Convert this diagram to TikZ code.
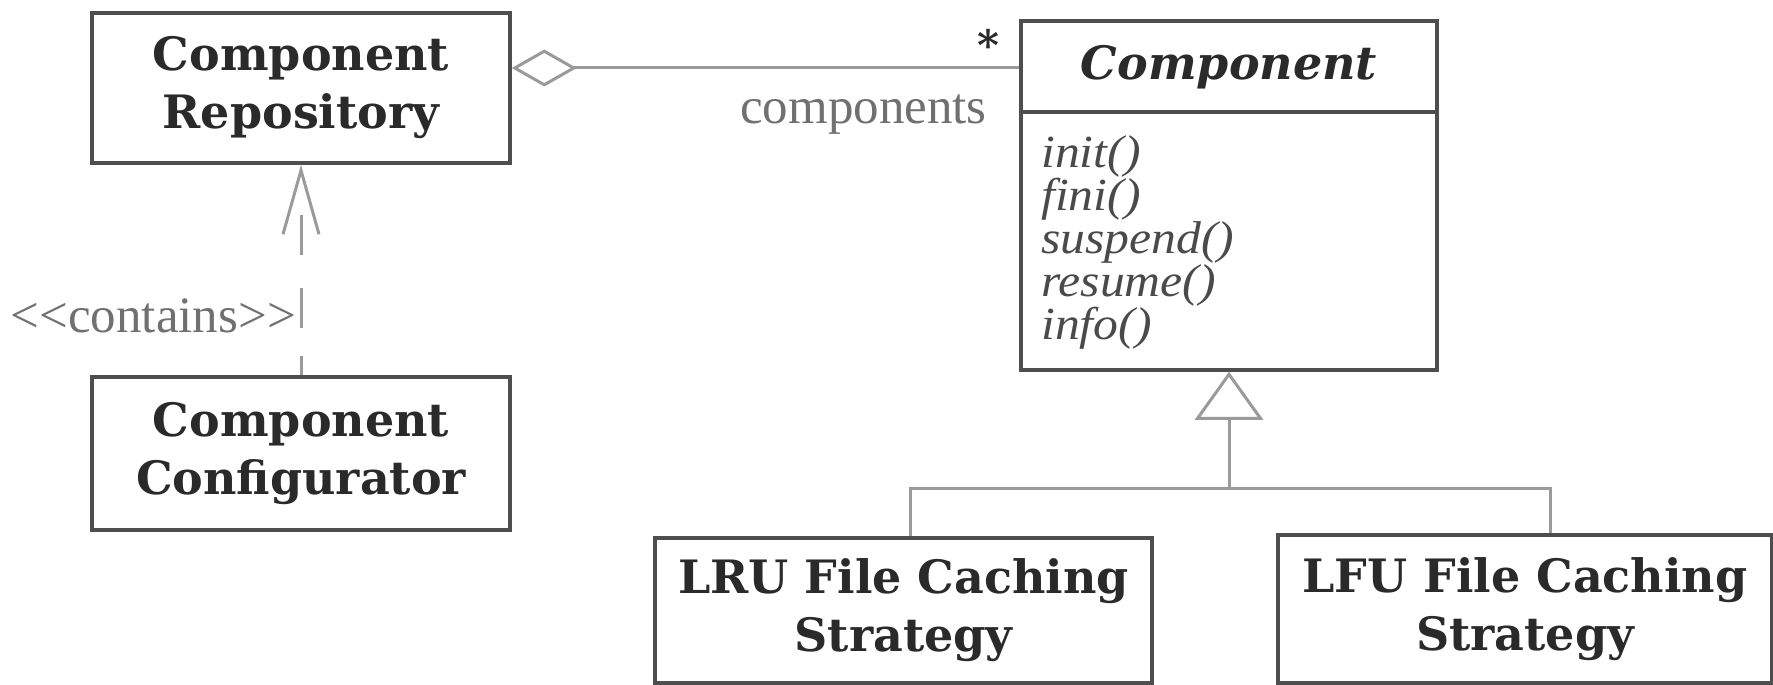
\documentclass[tikz,border=0pt]{standalone}
\usepackage{fontspec}
\setmainfont{DejaVu Serif}
\newfontfamily\lightserif{Liberation Serif}
\newfontfamily\opserif[FakeStretch=1.08]{Liberation Serif}
\usetikzlibrary{arrows.meta}

\definecolor{boxline}{HTML}{4E4E4E}
\definecolor{wire}{HTML}{9A9A9A}
\definecolor{ink}{HTML}{2A2A2A}
\definecolor{softink}{HTML}{707070}
\definecolor{methodink}{HTML}{4A4A4A}

% let operation lines sit on a fixed baseline grid
\newcommand{\oplines}{\setlength{\lineskiplimit}{-100pt}\setlength{\lineskip}{0pt}}

\tikzset{
  classbox/.style={draw=boxline, line width=3.5pt, inner sep=0pt, align=center,
    text=ink, font=\fontsize{46}{58}\selectfont\bfseries},
  wire/.style={draw=wire, line width=3pt},
  lightlabel/.style={inner sep=0pt, text=softink, font=\lightserif\fontsize{51}{51}\selectfont},
  operations/.style={inner sep=0pt, align=left, text=methodink,
    font={\opserif\itshape\fontsize{46}{43}\selectfont\oplines}},
}

\begin{document}
\begin{tikzpicture}[x=1pt,y=-1pt]
\useasboundingbox (0,0) rectangle (1773,685);

% classes
\node[classbox, minimum width=418pt, minimum height=150pt] (repo) at (301,88) {Component\\Repository};
\node[classbox, minimum width=418pt, minimum height=153pt] (conf) at (301,453.5) {Component\\Configurator};
\node[classbox, minimum width=416pt, minimum height=349pt] (comp) at (1229,195.5) {};
\node[classbox, minimum width=497pt, minimum height=145pt] (lru) at (903.5,610.5) {LRU File Caching\\Strategy};
\node[classbox, minimum width=494pt, minimum height=148pt] (lfu) at (1525,609) {LFU File Caching\\Strategy};

% abstract class compartments
\coordinate (divider) at (0,112);
\draw[boxline, line width=3.5pt] (comp.west |- divider) -- (comp.east |- divider);
\node[inner sep=0pt, anchor=base, text=ink, font=\fontsize{46}{46}\selectfont\bfseries\itshape] (compname) at (1229,80) {Component};
% the base anchor of a multi-line node is the baseline of its last line
\node[operations, anchor=base west] (ops) at (1041,339) {init()\\fini()\\suspend()\\resume()\\info()};

% aggregation
\coordinate (aggy) at (0,68);
\draw[wire, {Diamond[open, length=65pt, width=37pt, line width=3pt]}-] (repo.east |- aggy) -- (comp.west |- aggy);
\node[inner sep=0pt, anchor=base, text=ink, font=\fontsize{42}{42}\selectfont\bfseries] (mult) at (988,61) {*};
\node[lightlabel, anchor=base east] (role) at (987,123) {components};

% dependency
\draw[wire, dash pattern=on 19pt off 28pt on 40pt off 33pt on 40pt off 70pt,
  -{Straight Barb[length=64pt, width=36pt, line width=3pt]}] (conf.north) -- (repo.south);
\node[lightlabel, anchor=base east] (stereo) at (296,332) {<\kern0pt<contains>\kern0pt>};

% generalization
\coordinate (gen) at (1229,488);
\coordinate (lrutap) at (910,488);
\coordinate (lfutap) at (1550,488);
\draw[wire, -{Triangle[open, length=48pt, width=68pt, line width=3pt]}] (gen) -- (comp.south);
\draw[wire] (lrutap |- lru.north) -- (lrutap) -- (lfutap) -- (lfutap |- lfu.north);
\end{tikzpicture}
\end{document}
